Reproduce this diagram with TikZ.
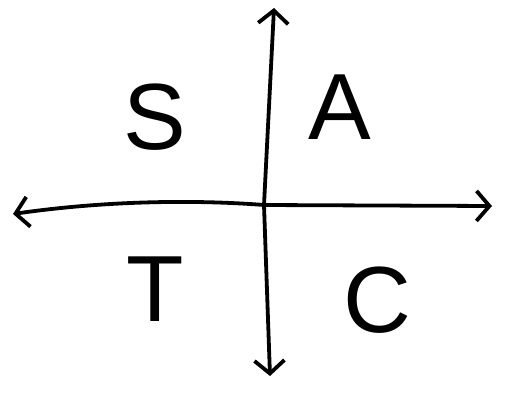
\documentclass[tikz,border=0pt]{standalone}
\usepackage{fontspec}
\setmainfont{Liberation Sans}
\usepackage{tikz}
\usetikzlibrary{arrows.meta,positioning}

\begin{document}
\begin{tikzpicture}[x=1pt,y=-1pt,
  axis/.style={line width=3.8pt,line cap=round,
               {Straight Barb[length=13pt,width=30pt,line width=3.8pt]}-{Straight Barb[length=13pt,width=30pt,line width=3.8pt]}},
  quad/.style={font=\fontsize{94}{94}\selectfont,inner sep=0pt}]
  \useasboundingbox (0,0) rectangle (507,405);
  % axis ends and crossing
  \coordinate (top) at (274,8);
  \coordinate (bot) at (270,376);
  \coordinate (lft) at (13,214);
  \coordinate (rgt) at (492,206);
  \coordinate (mid) at (264,205);
  \draw[axis] (lft) .. controls (110,200) and (200,200) .. (mid) -- (rgt);
  \draw[axis] (top) -- (mid) -- (bot);
  % quadrant letters
  \node[quad] (s) at (155,117) {S};
  \node[quad] (a) at (340,107) {A};
  \node[quad] (t) at (155,289) {T};
  \node[quad] (c) at (377,300) {C};
\end{tikzpicture}
\end{document}
